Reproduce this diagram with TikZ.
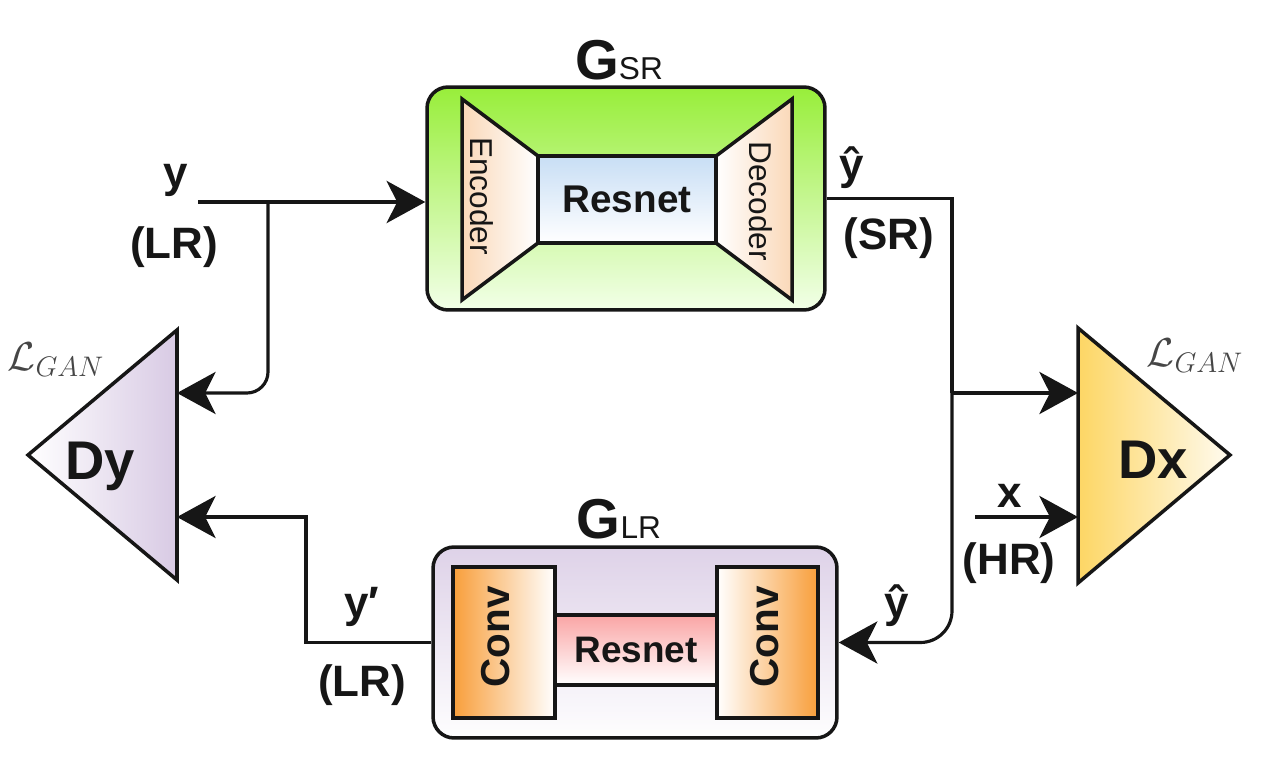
\RequirePackage{fix-cm}
\documentclass[tikz,border=0pt]{standalone}
\usepackage{fontspec}
\setmainfont{Liberation Sans}
\usetikzlibrary{arrows.meta,positioning,calc}

\definecolor{gsrgreen}{RGB}{152,238,58}
\definecolor{gsrpale}{RGB}{242,255,232}
\definecolor{encpeach}{RGB}{250,216,184}
\definecolor{resblue}{RGB}{200,222,245}
\definecolor{glrlav}{RGB}{222,210,232}
\definecolor{convorange}{RGB}{248,158,58}
\definecolor{respink}{RGB}{250,165,165}
\definecolor{dylav}{RGB}{216,202,228}
\definecolor{dxyellow}{RGB}{253,214,100}
\definecolor{lossgray}{RGB}{70,70,70}
\definecolor{ink}{RGB}{22,22,22}

\newcommand{\fsz}[1]{\fontsize{#1}{#1}\selectfont}

\begin{document}
\begin{tikzpicture}[
  x=0.02cm, y=-0.02cm,
  wire/.style={draw=ink, line width=1.8pt},
  arr/.style={-{Stealth[length=22pt,width=24pt,inset=6pt]}},
  gbox/.style={draw=ink, line width=2pt, rounded corners=12pt, inner sep=0pt},
  blk/.style={draw=ink, line width=2pt, inner sep=0pt},
  shp/.style={draw=ink, line width=2pt, line join=miter},
  lbl/.style={text=ink, font=\bfseries\fsz{25}, inner sep=0pt},
  inner/.style={text=ink, font=\bfseries\fsz{22}, inner sep=0pt},
  side/.style={text=ink, font=\fsz{18}, inner sep=0pt},
  loss/.style={text=lossgray, inner sep=0pt, font=\fsz{23}}
]
\useasboundingbox (0,0) rectangle (1277,767);

% generator G_SR
\node[gbox, top color=gsrgreen, middle color=gsrgreen!82!white, bottom color=gsrpale,
      minimum width=7.96cm, minimum height=4.46cm] (gsr) at (626,198.5) {};
\draw[shp, left color=encpeach, right color=white] (462,99) -- (538,156) -- (538,243) -- (462,300) -- cycle;
\draw[shp, left color=white, right color=encpeach] (792,99) -- (716,156) -- (716,243) -- (792,300) -- cycle;
\node[blk, top color=resblue, bottom color=white, minimum width=3.56cm, minimum height=1.74cm] (gsrres) at (627,199.5) {};
\node[inner] (gsrrestxt) at (gsrres) {Resnet};
\node[side, rotate=-90] (enc) at (482,196) {Encoder};
\node[side, rotate=-90] (dec) at (761,201) {Decoder};
\node[text=ink, inner sep=0pt] (gsrlbl) at (619,60) {{\bfseries\fsz{32}G}{\fsz{18}SR}};

% generator G_LR
\node[gbox, top color=glrlav, bottom color=white!97!glrlav,
      minimum width=8.08cm, minimum height=3.82cm] (glr) at (635,642.5) {};
\node[blk, top color=respink, bottom color=white, minimum width=3.24cm, minimum height=1.4cm] (glrres) at (636,650) {};
\node[blk, left color=convorange, right color=white, minimum width=2.04cm, minimum height=3.02cm] (convl) at (504,642.5) {};
\node[blk, left color=white, right color=convorange, minimum width=2.02cm, minimum height=3.02cm] (convr) at (767.5,642.5) {};
\node[inner, font=\bfseries\fsz{21}] (glrrestxt) at (glrres) {Resnet};
\node[inner, font=\bfseries\fsz{23}, rotate=90] (convltxt) at (496,637) {Conv};
\node[inner, font=\bfseries\fsz{23}, rotate=90] (convrtxt) at (765,637) {Conv};
\node[text=ink, inner sep=0pt] (glrlbl) at (619,519) {{\bfseries\fsz{32}G}{\fsz{18}LR}};

% discriminators
\draw[shp, left color=white, right color=dylav] (177,330) -- (177,580) -- (28,455) -- cycle;
\node[text=ink, font=\bfseries\fsz{31}, inner sep=0pt] (dy) at (100,466) {Dy};
\node[loss] (dyloss) at (56,360) {$\mathcal{L}_{GAN}$};
\coordinate (dyup) at (177,393);
\coordinate (dylow) at (177,517);

\draw[shp, left color=dxyellow, right color=white!90!dxyellow] (1078,328) -- (1078,583) -- (1230,455) -- cycle;
\node[text=ink, font=\bfseries\fsz{31}, inner sep=0pt] (dx) at (1153,460) {Dx};
\node[loss] (dxloss) at (1195,356) {$\mathcal{L}_{GAN}$};
\coordinate (dxup) at (1078,393);
\coordinate (dxlow) at (1078,517);

% connectors
\coordinate (yin) at (198,202);
\coordinate (ysplit) at (268,202);
\draw[wire, arr] (yin) -- (yin -| gsr.west);
\draw[wire, arr, rounded corners=12pt] (ysplit) |- (dyup);

\coordinate (srsplit) at (952,393);
\draw[wire] (gsr.east) -| (srsplit);
\draw[wire, arr] (srsplit) -- (dxup);
\draw[wire, arr, rounded corners=18pt] (srsplit) |- (glr.east);

\coordinate (xin) at (975,517);
\draw[wire, arr] (xin) -- (dxlow);

\coordinate (ybend) at (306,517);
\draw[wire, arr] (glr.west) -| (ybend) -- (dylow);

% labels
\node[lbl] (ylbl) at (176,180) {y};
\node[lbl] (ylr) at (174,247) {(LR)};
\node[lbl] (yhat) at (852,168) {ŷ};
\node[lbl] (ysr) at (889,238) {(SR)};
\node[lbl] (yhat2) at (897,606) {ŷ};
\node[lbl] (xlbl) at (1010,496) {x};
\node[lbl] (xhr) at (1009,563) {(HR)};
\node[lbl] (yprime) at (362,607) {y′};
\node[lbl] (yplr) at (362,685) {(LR)};
\end{tikzpicture}
\end{document}
